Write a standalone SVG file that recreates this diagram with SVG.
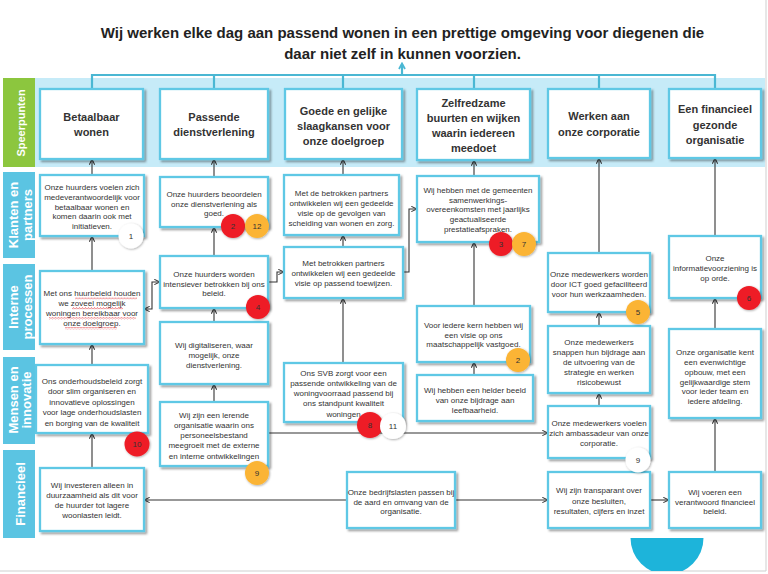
<svg xmlns="http://www.w3.org/2000/svg" width="768" height="574" viewBox="0 0 768 574">
<style>
.box{fill:#fff;stroke:#5ec8e5;stroke-width:2.3;filter:url(#sh)}
.t{font-family:"Liberation Sans",Arial,sans-serif;font-size:8px;fill:#333;text-anchor:middle}
.h{font-family:"Liberation Sans",Arial,sans-serif;font-size:11px;font-weight:bold;fill:#333;text-anchor:middle}
.lab{font-family:"Liberation Sans",Arial,sans-serif;font-size:13px;font-weight:bold;fill:#fff;text-anchor:middle}
.ttl{font-family:"Liberation Sans",Arial,sans-serif;font-size:15px;font-weight:bold;fill:#222;text-anchor:middle}
.strip{fill:#5bc4e2}
.c{fill:none;stroke:#333;stroke-width:1.1}
.top{fill:none;stroke:#4ab7d3;stroke-width:2.2}
.bt{font-family:"Liberation Sans",Arial,sans-serif;font-size:8px;fill:#333;text-anchor:middle}
.red{fill:#ee1c25;filter:url(#bs)}
.org{fill:#fbb434;filter:url(#bs)}
.wht{fill:#fff;filter:url(#bs)}
.sq{fill:url(#squig)}
</style>
<defs>
<filter id="sh" x="-10%" y="-10%" width="130%" height="130%"><feDropShadow dx="2" dy="2" stdDeviation="1.1" flood-color="#000" flood-opacity="0.38"/></filter>
<filter id="bs" x="-30%" y="-30%" width="160%" height="160%"><feDropShadow dx="0.8" dy="0.8" stdDeviation="1.2" flood-color="#000" flood-opacity="0.35"/></filter>
<marker id="ah" viewBox="0 0 8 8" refX="7.5" refY="4" markerWidth="7" markerHeight="7" markerUnits="userSpaceOnUse" orient="auto-start-reverse"><path d="M1,1 L7.5,4 L1,7" fill="none" stroke="#333" stroke-width="1.2"/></marker>
<marker id="ahb" viewBox="0 0 8 8" refX="6" refY="4" markerWidth="8" markerHeight="8" markerUnits="userSpaceOnUse" orient="auto"><path d="M1,1 L6.5,4 L1,7" fill="none" stroke="#4ab7d3" stroke-width="1.8"/></marker>
<pattern id="squig" width="3" height="2.4" patternUnits="userSpaceOnUse"><path d="M0,2 L1.5,0.4 L3,2" fill="none" stroke="#e0282e" stroke-width="0.6"/></pattern>
<clipPath id="clipB"><rect x="0" y="0" width="768" height="571"/></clipPath>
</defs>
<rect width="768" height="574" fill="#fff"/>
<line x1="766" y1="0" x2="766" y2="571" stroke="#cfcfcf" stroke-width="1"/>
<line x1="0" y1="571" x2="766" y2="571" stroke="#cfcfcf" stroke-width="1"/>
<text class="ttl" x="402.5" y="38">Wij werken elke dag aan passend wonen in een prettige omgeving voor diegenen die</text>
<text class="ttl" x="402.5" y="59">daar niet zelf in kunnen voorzien.</text>
<rect x="35" y="78" width="730" height="89" fill="#c6ebf8"/>
<g id="labels">
<rect x="3" y="78" width="32" height="89" fill="#8cc63e"/>
<text class="lab" style="font-size:11px" transform="translate(25,123) rotate(-90)">Speerpunten</text>
<rect class="strip" x="3" y="172" width="32" height="86"/>
<text class="lab" transform="translate(18,215) rotate(-90)">Klanten en</text>
<text class="lab" transform="translate(32,215) rotate(-90)">partners</text>
<rect class="strip" x="3" y="264" width="32" height="86"/>
<text class="lab" transform="translate(18,307) rotate(-90)">Interne</text>
<text class="lab" transform="translate(31.5,307) rotate(-90)">processen</text>
<rect class="strip" x="3" y="357" width="32" height="87"/>
<text class="lab" transform="translate(18,400) rotate(-90)">Mensen en</text>
<text class="lab" transform="translate(31,400) rotate(-90)">innovatie</text>
<rect class="strip" x="3" y="450" width="32" height="88"/>
<text class="lab" transform="translate(25,494) rotate(-90)">Financieel</text>
</g>
<g id="connectors">
<path class="top" d="M92,89 V75 H715 V89 M214,75 V89 M343,75 V89 M474,75 V89 M599,75 V89"/>
<path class="top" d="M402,75 V64" marker-end="url(#ahb)"/>
<path class="c" d="M92,468 V433" marker-end="url(#ah)"/>
<path class="c" d="M92,365 V344" marker-end="url(#ah)"/>
<path class="c" d="M92,271 V236" marker-end="url(#ah)"/>
<path class="c" d="M92,175 V159" marker-end="url(#ah)"/>
<path class="c" d="M214,402 V384" marker-end="url(#ah)"/>
<path class="c" d="M214,322 V308" marker-end="url(#ah)"/>
<path class="c" d="M214,256 V227" marker-end="url(#ah)"/>
<path class="c" d="M214,177 V159" marker-end="url(#ah)"/>
<path class="c" d="M343,363 V298" marker-end="url(#ah)"/>
<path class="c" d="M343,247 V235" marker-end="url(#ah)"/>
<path class="c" d="M343,175 V159" marker-end="url(#ah)"/>
<path class="c" d="M474,375 V362" marker-end="url(#ah)"/>
<path class="c" d="M474,306 V242" marker-end="url(#ah)"/>
<path class="c" d="M474,176 V160" marker-end="url(#ah)"/>
<path class="c" d="M599,406 V393" marker-end="url(#ah)"/>
<path class="c" d="M599,326 V312" marker-end="url(#ah)"/>
<path class="c" d="M599,253 V158" marker-end="url(#ah)"/>
<path class="c" d="M715,472 V418" marker-end="url(#ah)"/>
<path class="c" d="M715,329 V298" marker-end="url(#ah)"/>
<path class="c" d="M715,236 V158" marker-end="url(#ah)"/>
<path class="c" d="M144,309 H152 V282 H160" marker-start="url(#ah)" marker-end="url(#ah)"/>
<path class="c" d="M268,282 H277 V272 H284" marker-end="url(#ah)"/>
<path class="c" d="M403,272 H409 V209 H417" marker-end="url(#ah)"/>
<path class="c" d="M268,433 H548" marker-end="url(#ah)"/>
<path class="c" d="M347,500 H144" marker-end="url(#ah)"/>
<path class="c" d="M455,500 H548" marker-end="url(#ah)"/>
<path class="c" d="M650,500 H669" marker-end="url(#ah)"/>
</g>
<g id="T1"><rect class="box" x="40" y="89" width="103" height="70"/><text class="h"><tspan x="91.5" y="121">Betaalbaar</tspan><tspan x="91.5" y="136">wonen</tspan></text></g>
<g id="T2"><rect class="box" x="160" y="89" width="108" height="70"/><text class="h"><tspan x="214" y="121">Passende</tspan><tspan x="214" y="136">dienstverlening</tspan></text></g>
<g id="T3"><rect class="box" x="285" y="89" width="117" height="70"/><text class="h"><tspan x="343.5" y="115">Goede en gelijke</tspan><tspan x="343.5" y="130">slaagkansen voor</tspan><tspan x="343.5" y="145">onze doelgroep</tspan></text></g>
<g id="T4"><rect class="box" x="417" y="89" width="113" height="71"/><text class="h"><tspan x="473.5" y="107">Zelfredzame</tspan><tspan x="473.5" y="122">buurten en wijken</tspan><tspan x="473.5" y="137">waarin iedereen</tspan><tspan x="473.5" y="152">meedoet</tspan></text></g>
<g id="T5"><rect class="box" x="548" y="89" width="102" height="69"/><text class="h"><tspan x="599" y="120">Werken aan</tspan><tspan x="599" y="136">onze corporatie</tspan></text></g>
<g id="T6"><rect class="box" x="669" y="89" width="92" height="69"/><text class="h"><tspan x="715" y="113">Een financieel</tspan><tspan x="715" y="129">gezonde</tspan><tspan x="715" y="144">organisatie</tspan></text></g>
<g id="A1"><rect class="box" x="40" y="175" width="104" height="61"/><text class="t"><tspan x="92" y="190">Onze huurders voelen zich</tspan><tspan x="92" y="200">medeverantwoordelijk voor</tspan><tspan x="92" y="209.5">betaalbaar wonen en</tspan><tspan x="92" y="219">komen daarin ook met</tspan><tspan x="92" y="229">initiatieven.</tspan></text></g>
<g id="B1"><rect class="box" x="160" y="177" width="108" height="50"/><text class="t"><tspan x="214" y="197">Onze huurders beoordelen</tspan><tspan x="214" y="206.5">onze dienstverlening als</tspan><tspan x="214" y="216">goed.</tspan></text></g>
<g id="C1"><rect class="box" x="284" y="175" width="115" height="60"/><text class="t"><tspan x="341.5" y="196">Met de betrokken partners</tspan><tspan x="341.5" y="206">ontwikkelen wij een gedeelde</tspan><tspan x="341.5" y="216">visie op de gevolgen van</tspan><tspan x="341.5" y="226">scheiding van wonen en zorg.</tspan></text></g>
<g id="D1"><rect class="box" x="417" y="176" width="122" height="66"/><text class="t"><tspan x="478" y="193">Wij hebben met de gemeenten</tspan><tspan x="478" y="202.5">samenwerkings-</tspan><tspan x="478" y="212">overeenkomsten met jaarlijks</tspan><tspan x="478" y="222">geactualiseerde</tspan><tspan x="478" y="231.5">prestatieafspraken.</tspan></text></g>
<g id="E1"><rect class="box" x="548" y="253" width="102" height="59"/><text class="t"><tspan x="599" y="277">Onze medewerkers worden</tspan><tspan x="599" y="287">door ICT goed gefaciliteerd</tspan><tspan x="599" y="297">voor hun werkzaamheden.</tspan></text></g>
<g id="F1"><rect class="box" x="669" y="236" width="92" height="62"/><text class="t"><tspan x="715" y="261">Onze</tspan><tspan x="715" y="271">informatievoorziening is</tspan><tspan x="715" y="281">op orde.</tspan></text></g>
<g id="A2"><rect class="box" x="40" y="271" width="104" height="73"/><text class="t"><tspan x="92" y="296">Met ons huurbeleid houden</tspan><tspan x="92" y="306">we zoveel mogelijk</tspan><tspan x="92" y="316">woningen bereikbaar voor</tspan><tspan x="92" y="326">onze doelgroep.</tspan></text>
<rect class="sq" x="75" y="297" width="62" height="2.4"/><rect class="sq" x="72" y="307" width="51" height="2.4"/><rect class="sq" x="49" y="317" width="87" height="2.4"/><rect class="sq" x="65" y="327" width="52" height="2.4"/></g>
<g id="B2"><rect class="box" x="160" y="256" width="108" height="52"/><text class="t"><tspan x="214" y="277">Onze huurders worden</tspan><tspan x="214" y="286.5">intensiever betrokken bij ons</tspan><tspan x="214" y="296">beleid.</tspan></text></g>
<g id="C2"><rect class="box" x="284" y="247" width="119" height="51"/><text class="t"><tspan x="343.5" y="266">Met betrokken partners</tspan><tspan x="343.5" y="276">ontwikkelen wij een gedeelde</tspan><tspan x="343.5" y="286">visie op passend toewijzen.</tspan></text></g>
<g id="D2"><rect class="box" x="417" y="306" width="113" height="56"/><text class="t"><tspan x="473.5" y="328">Voor iedere kern hebben wij</tspan><tspan x="473.5" y="337.5">een visie op ons</tspan><tspan x="473.5" y="347">maatschappelijk vastgoed.</tspan></text></g>
<g id="B3b"><rect class="box" x="160" y="322" width="108" height="62"/><text class="t"><tspan x="214" y="348">Wij digitaliseren, waar</tspan><tspan x="214" y="358">mogelijk, onze</tspan><tspan x="214" y="368">dienstverlening.</tspan></text></g>
<g id="E2"><rect class="box" x="548" y="326" width="102" height="67"/><text class="t"><tspan x="599" y="345">Onze medewerkers</tspan><tspan x="599" y="355">snappen hun bijdrage aan</tspan><tspan x="599" y="365">de uitvoering van de</tspan><tspan x="599" y="375">strategie en werken</tspan><tspan x="599" y="384.5">risicobewust</tspan></text></g>
<g id="F2"><rect class="box" x="669" y="329" width="92" height="89"/><text class="t"><tspan x="715" y="355">Onze organisatie kent</tspan><tspan x="715" y="365">een evenwichtige</tspan><tspan x="715" y="375">opbouw, met een</tspan><tspan x="715" y="384.5">gelijkwaardige stem</tspan><tspan x="715" y="394">voor ieder team en</tspan><tspan x="715" y="403.5">iedere afdeling.</tspan></text></g>
<g id="A3"><rect class="box" x="36" y="365" width="112" height="68"/><text class="t"><tspan x="92" y="383.5">Ons onderhoudsbeleid zorgt</tspan><tspan x="92" y="394">door slim organiseren en</tspan><tspan x="92" y="404.5">innovatieve oplossingen</tspan><tspan x="92" y="415">voor lage onderhoudslasten</tspan><tspan x="92" y="425.5">en borging van de kwaliteit</tspan></text></g>
<g id="C3"><rect class="box" x="284" y="363" width="119" height="59"/><text class="t"><tspan x="343.5" y="375.5">Ons SVB zorgt voor een</tspan><tspan x="343.5" y="386">passende ontwikkeling van de</tspan><tspan x="343.5" y="396">woningvoorraad passend bij</tspan><tspan x="343.5" y="406">ons standpunt kwaliteit</tspan><tspan x="343.5" y="416.5">woningen</tspan></text></g>
<g id="D3"><rect class="box" x="417" y="375" width="116" height="46"/><text class="t"><tspan x="475" y="393">Wij hebben een helder beeld</tspan><tspan x="475" y="403">van onze bijdrage aan</tspan><tspan x="475" y="413">leefbaarheid.</tspan></text></g>
<g id="B3"><rect class="box" x="160" y="402" width="108" height="64"/><text class="t"><tspan x="214" y="417.5">Wij zijn een lerende</tspan><tspan x="214" y="427.5">organisatie waarin ons</tspan><tspan x="214" y="438">personeelsbestand</tspan><tspan x="214" y="448">meegroeit met de externe</tspan><tspan x="214" y="458.5">en interne ontwikkelingen</tspan></text></g>
<g id="E3"><rect class="box" x="548" y="406" width="102" height="52"/><text class="t"><tspan x="599" y="426">Onze medewerkers voelen</tspan><tspan x="599" y="436">zich ambassadeur van onze</tspan><tspan x="599" y="446">corporatie.</tspan></text></g>
<g id="A4"><rect class="box" x="40" y="468" width="104" height="63"/><text class="t"><tspan x="92" y="488">Wij investeren alleen in</tspan><tspan x="92" y="498">duurzaamheid als dit voor</tspan><tspan x="92" y="508">de huurder tot lagere</tspan><tspan x="92" y="518">woonlasten leidt.</tspan></text></g>
<g id="C4"><rect class="box" x="347" y="472" width="108" height="56"/><text class="t"><tspan x="401" y="495">Onze bedrijfslasten passen bij</tspan><tspan x="401" y="505">de aard en omvang van de</tspan><tspan x="401" y="514">organisatie.</tspan></text></g>
<g id="E4"><rect class="box" x="548" y="472" width="102" height="56"/><text class="t"><tspan x="599" y="493">Wij zijn transparant over</tspan><tspan x="599" y="504">onze besluiten,</tspan><tspan x="599" y="514">resultaten, cijfers en inzet</tspan></text></g>
<g id="F3"><rect class="box" x="669" y="472" width="92" height="56"/><text class="t"><tspan x="715" y="495">Wij voeren een</tspan><tspan x="715" y="504.5">verantwoord financieel</tspan><tspan x="715" y="514">beleid.</tspan></text></g>
<g id="badges">
<circle class="wht" cx="131" cy="236" r="12.5"/><text class="bt" x="131" y="239">1</text>
<circle class="red" cx="233" cy="226" r="12"/><text class="bt" x="233" y="229">2</text>
<circle class="org" cx="257" cy="226" r="12"/><text class="bt" x="257" y="229">12</text>
<circle class="red" cx="501" cy="244" r="12"/><text class="bt" x="501" y="247">3</text>
<circle class="org" cx="524" cy="244" r="12"/><text class="bt" x="524" y="247">7</text>
<circle class="org" cx="638" cy="312" r="12"/><text class="bt" x="638" y="315">5</text>
<circle class="red" cx="749" cy="298" r="12"/><text class="bt" x="749" y="301">6</text>
<circle class="red" cx="258" cy="307" r="12"/><text class="bt" x="258" y="310">4</text>
<circle class="org" cx="518" cy="360" r="12"/><text class="bt" x="518" y="363">2</text>
<circle class="red" cx="137" cy="444" r="12.5"/><text class="bt" x="137" y="447">10</text>
<circle class="red" cx="370" cy="425" r="13"/><text class="bt" x="370" y="428">8</text>
<circle class="wht" cx="393" cy="426" r="13"/><text class="bt" x="393" y="429">11</text>
<circle class="org" cx="257" cy="473" r="12"/><text class="bt" x="257" y="476">9</text>
<circle class="wht" cx="638" cy="460" r="12.5"/><text class="bt" x="638" y="463">9</text>
</g>
<path d="M630.5,538 H703.5 A36.5,36.5 0 0 1 630.5,538 Z" fill="#1db4da" clip-path="url(#clipB)"/>
</svg>
